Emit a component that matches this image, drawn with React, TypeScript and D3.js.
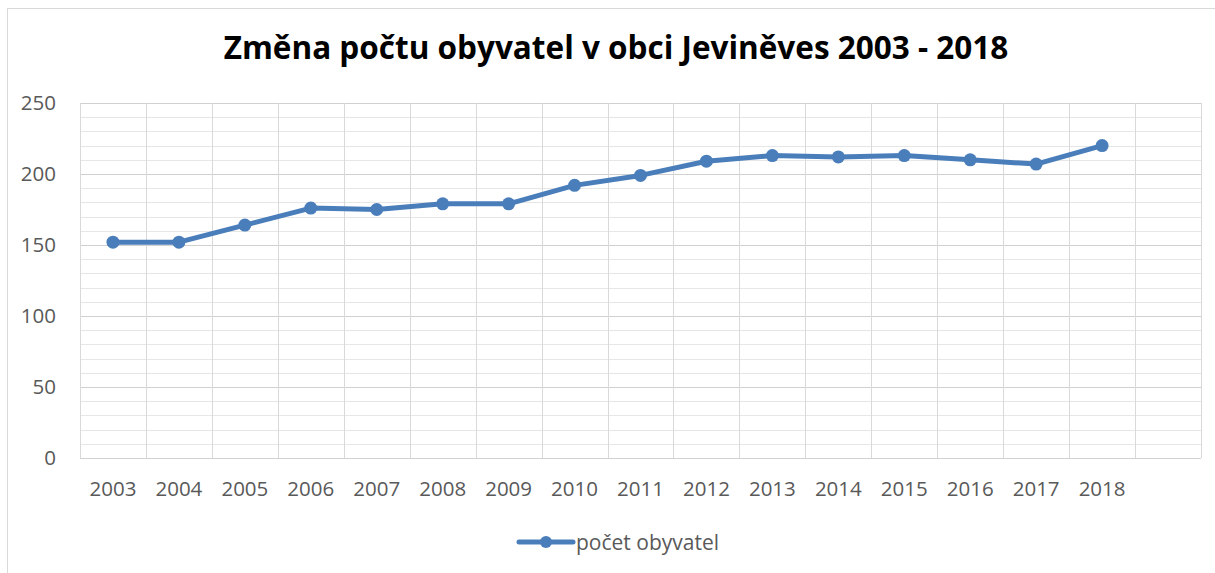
import * as d3 from "d3";
import React, { useEffect, useRef } from "react";

const years = ["2003", "2004", "2005", "2006", "2007", "2008", "2009", "2010", "2011", "2012", "2013", "2014", "2015", "2016", "2017", "2018"];
const population = [152, 152, 164, 176, 175, 179, 179, 192, 199, 209, 213, 212, 213, 210, 207, 220];
const yTicks = [0, 50, 100, 150, 200, 250];

const chartTitle = "Změna počtu obyvatel v obci Jeviněves 2003 - 2018";
const seriesName = "počet obyvatel";

export default function App() {
    const svgRef = useRef<SVGSVGElement | null>(null);

    useEffect(() => {
        if (!svgRef.current) return;
        const svg = d3.select(svgRef.current);
        svg.selectAll("*").remove();

        const width = 1215;
        const height = 573;
        const left = 80, right = 1201, top = 103, bottom = 458;
        const lineColor = "#4a7ebb";
        const gridColor = "#d9d9d9";
        const font = "'Open Sans', sans-serif";

        svg.attr("width", width).attr("height", height);

        // outer chart border (cropped on the right and bottom)
        svg.append("rect")
            .attr("x", 7.5).attr("y", 8.5)
            .attr("width", 1230).attr("height", 600)
            .attr("fill", "white")
            .attr("stroke", gridColor);

        // one extra empty slot after 2018, as in the original
        const domain = [...years, ""];
        const x = d3.scaleBand().domain(domain).range([left, right]);
        const y = d3.scaleLinear().domain([0, 250]).range([bottom, top]);

        // minor gridlines every 10
        const g = svg.append("g");
        g.selectAll(".minor")
            .data(d3.range(0, 251, 10))
            .enter()
            .append("line")
            .attr("x1", left).attr("x2", right)
            .attr("y1", (d) => Math.round(y(d)) + 0.5)
            .attr("y2", (d) => Math.round(y(d)) + 0.5)
            .attr("stroke", (d) => (d % 50 === 0 ? "#d0d0d0" : "#e6e6e6"))
            .attr("stroke-width", 1);

        // vertical gridlines at category borders
        const borders = domain.map((d) => x(d) as number).concat([right]);
        g.selectAll(".vgrid")
            .data(borders)
            .enter()
            .append("line")
            .attr("x1", (d) => Math.round(d) + 0.5).attr("x2", (d) => Math.round(d) + 0.5)
            .attr("y1", top).attr("y2", bottom)
            .attr("stroke", gridColor);

        // y tick labels
        svg.selectAll(".ylab")
            .data(yTicks)
            .enter()
            .append("text")
            .attr("x", 56)
            .attr("y", (d) => y(d) + 7)
            .attr("text-anchor", "end")
            .style("font-family", font)
            .style("font-size", "20.5px")
            .style("fill", "#595959")
            .text((d) => d);

        // x tick labels
        svg.selectAll(".xlab")
            .data(years)
            .enter()
            .append("text")
            .attr("x", (d) => (x(d) as number) + x.bandwidth() / 2)
            .attr("y", 496)
            .attr("text-anchor", "middle")
            .style("font-family", font)
            .style("font-size", "20.5px")
            .style("fill", "#595959")
            .text((d) => d);

        // series line
        const line = d3.line<number>()
            .x((d, i) => (x(years[i]) as number) + x.bandwidth() / 2)
            .y((d) => y(d));

        svg.append("path")
            .datum(population)
            .attr("d", line)
            .attr("fill", "none")
            .attr("stroke", lineColor)
            .attr("stroke-width", 5)
            .attr("stroke-linejoin", "round")
            .attr("stroke-linecap", "round");

        svg.selectAll(".dot")
            .data(population)
            .enter()
            .append("circle")
            .attr("cx", (d, i) => (x(years[i]) as number) + x.bandwidth() / 2)
            .attr("cy", (d) => y(d))
            .attr("r", 6.5)
            .attr("fill", lineColor);

        // title
        svg.append("text")
            .attr("x", 616)
            .attr("y", 59)
            .attr("text-anchor", "middle")
            .style("font-family", font)
            .style("font-size", "31.5px")
            .style("font-weight", "bold")
            .style("fill", "#000")
            .text(chartTitle);

        // legend
        const lg = svg.append("g");
        lg.append("line")
            .attr("x1", 519).attr("x2", 573)
            .attr("y1", 542).attr("y2", 542)
            .attr("stroke", lineColor)
            .attr("stroke-width", 5)
            .attr("stroke-linecap", "round");
        lg.append("circle")
            .attr("cx", 546).attr("cy", 542).attr("r", 6)
            .attr("fill", lineColor);
        lg.append("text")
            .attr("x", 576).attr("y", 550)
            .style("font-family", font)
            .style("font-size", "21px")
            .style("fill", "#595959")
            .text(seriesName);
    }, []);

    return <svg ref={svgRef} style={{ position: "absolute", left: 0, top: 0, display: "block" }} />;
}
